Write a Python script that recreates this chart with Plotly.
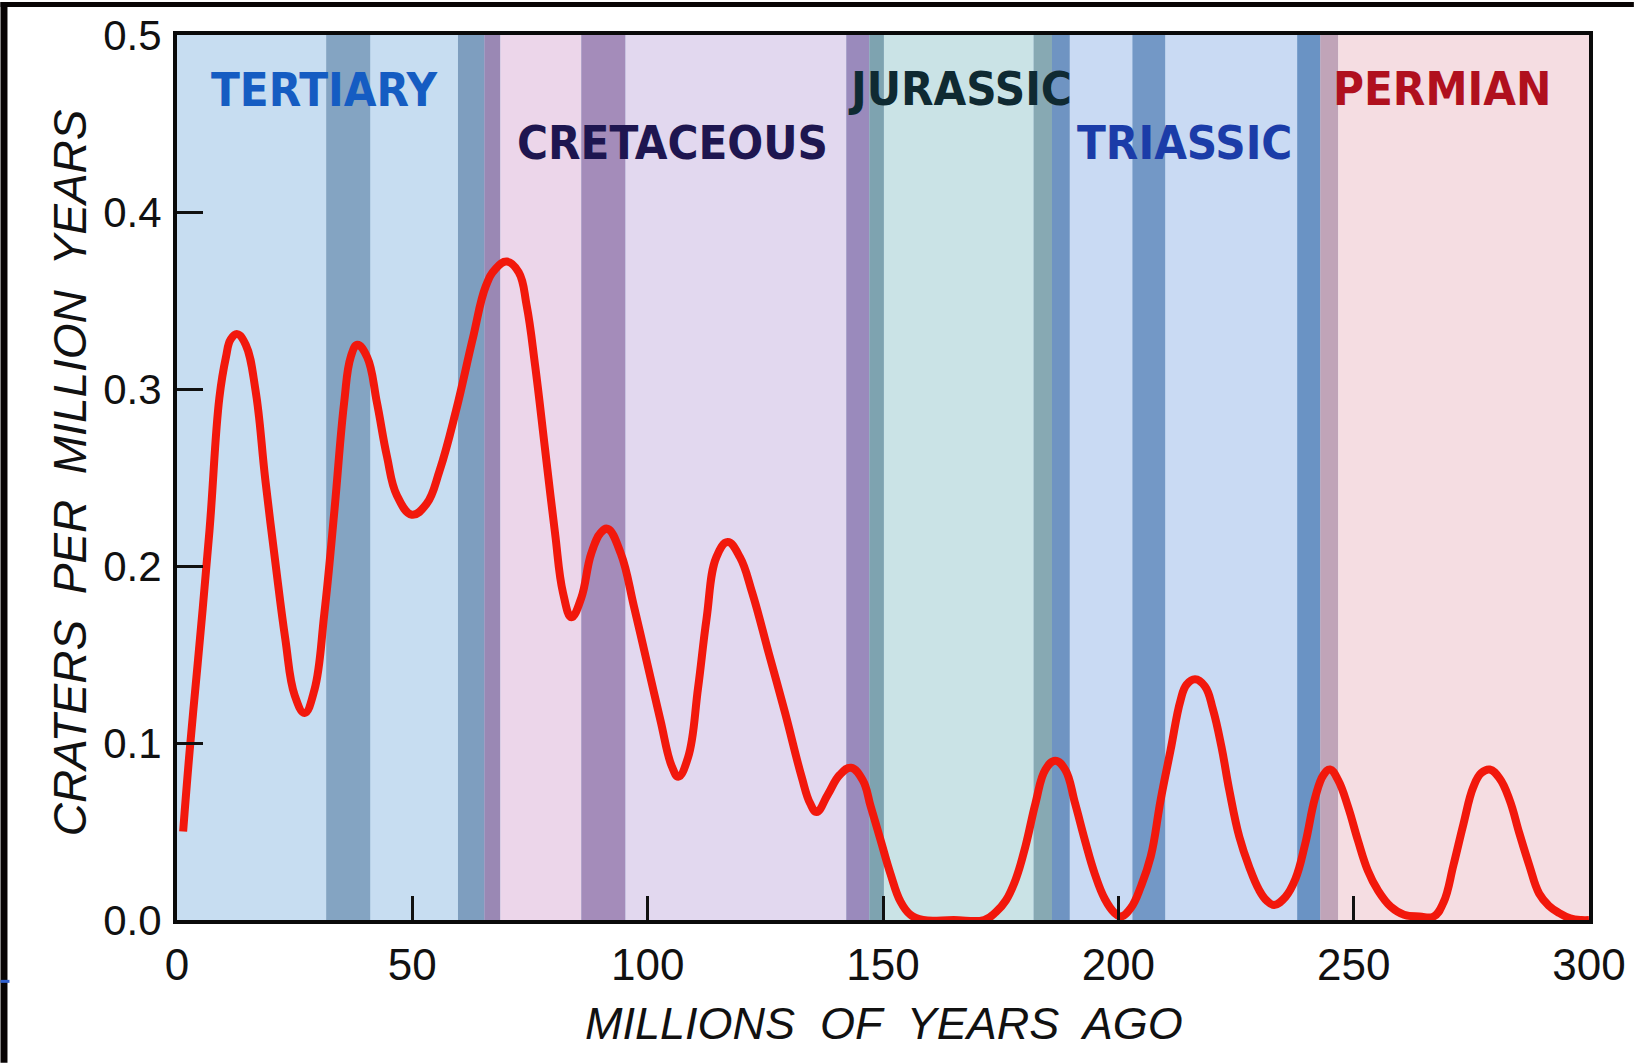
import plotly.graph_objects as go

# Crater rate curve (age in Myr ago, craters per Myr)
AGE = [1.3, 2.7, 4.4, 6.9, 9.0, 10.4, 11.4, 12.8, 14.6, 16.7,
       18.75, 20.9, 23.0, 25.0, 27.1, 29.2, 31.3, 33.4, 35.5, 36.9,
       38.3, 40.4, 42.5, 44.6, 46.7, 49.9, 53.0, 55.8, 59.3, 62.8,
       65.6, 67.7, 70.1, 72.6, 74.3, 76.1, 78.2, 80.3, 82.0, 83.8,
       85.9, 88.0, 90.1, 91.5, 94.3, 97.1, 99.9, 102.7, 105.1, 106.5,
       108.6, 110.7, 112.5, 114.6, 117.0, 119.6, 122.2, 125.7, 129.2, 132.7,
       134.5, 135.9, 138.3, 140.8, 143.2, 145.7, 147.4, 149.5, 151.6, 153.7,
       155.8, 158.5, 165.0, 171.5, 174.0, 176.1, 178.2, 180.3, 182.4, 184.5,
       186.6, 188.7, 190.8, 192.9, 195.0, 197.1, 199.2, 200.6, 202.7, 204.8,
       206.9, 209.0, 211.1, 213.2, 214.5, 216.3, 218.4, 220.1, 221.9, 223.6,
       225.7, 227.8, 229.9, 231.5, 233.1, 235.5, 237.6, 239.7, 241.8, 243.6,
       245.0, 246.7, 248.8, 250.9, 253.0, 255.1, 257.9, 260.7, 264.0, 267.0,
       269.1, 271.2, 273.3, 275.4, 277.1, 278.9, 281.0, 283.1, 285.2, 287.3,
       289.4, 291.5, 293.6, 296.0, 298.4, 300.0]
RATE = [0.050, 0.096, 0.145, 0.220, 0.295, 0.318, 0.328, 0.331, 0.325, 0.299,
        0.249, 0.202, 0.159, 0.127, 0.117, 0.130, 0.173, 0.230, 0.292, 0.318,
        0.325, 0.318, 0.292, 0.262, 0.240, 0.229, 0.235, 0.254, 0.288, 0.328,
        0.358, 0.368, 0.372, 0.366, 0.347, 0.313, 0.266, 0.219, 0.185, 0.171,
        0.182, 0.207, 0.219, 0.221, 0.207, 0.177, 0.145, 0.113, 0.087, 0.081,
        0.092, 0.131, 0.170, 0.205, 0.2135, 0.205, 0.185, 0.151, 0.117, 0.081,
        0.066, 0.061, 0.071, 0.082, 0.086, 0.079, 0.064, 0.045, 0.026, 0.0105,
        0.003, 0.0, 0.0, 0.0, 0.0045, 0.011, 0.023, 0.042, 0.066, 0.085,
        0.090, 0.085, 0.066, 0.045, 0.026, 0.012, 0.004, 0.002, 0.007, 0.019,
        0.036, 0.068, 0.096, 0.124, 0.133, 0.136, 0.132, 0.119, 0.098, 0.073,
        0.047, 0.030, 0.017, 0.011, 0.0085, 0.013, 0.023, 0.043, 0.069, 0.082,
        0.085, 0.079, 0.064, 0.045, 0.028, 0.017, 0.0075, 0.003, 0.002, 0.002,
        0.010, 0.031, 0.054, 0.075, 0.083, 0.085, 0.080, 0.068, 0.049, 0.031,
        0.015, 0.008, 0.004, 0.001, 0.0, 0.0]

# Background stripes (age ranges)
BAND_START = [0, 31.7, 41.1, 59.7, 65.3, 68.7, 85.9, 95.3, 142.2, 147.1,
              150.2, 182.0, 185.9, 189.7, 203.0, 210.0, 238.0, 242.9, 246.7]
BAND_END = [31.7, 41.1, 59.7, 65.3, 68.7, 85.9, 95.3, 142.2, 147.1, 150.2,
            182.0, 185.9, 189.7, 203.0, 210.0, 238.0, 242.9, 246.7, 300]
BAND_COLORS = ["#c7ddf1", "#84a4c2", "#c7ddf1", "#7e9ebf", "#9a88b4",
               "#ecd6ea", "#a48cba", "#e2d8ef", "#9a8abc", "#7ea3b0",
               "#cae3e6", "#87a9b3", "#6f94c2", "#c9daf3", "#7398c6",
               "#c9daf3", "#6a93c4", "#c0a4b8", "#f5dde2"]

# Period names and where they are written
PERIODS = ["TERTIARY", "CRETACEOUS", "JURASSIC", "TRIASSIC", "PERMIAN"]
PERIOD_X = [31.3, 105.2, 166.4, 214.1, 268.8]
PERIOD_Y = [0.469, 0.439, 0.470, 0.439, 0.470]
PERIOD_COLORS = ["#155cc2", "#1e1650", "#0f2a32", "#1b3ca8", "#b0101e"]

X_TICKS = [0, 50, 100, 150, 200, 250, 300]
Y_TICKS = [0.0, 0.1, 0.2, 0.3, 0.4, 0.5]

W, H = 1638, 1063
M = dict(l=177, r=45, t=33, b=143)
PW, PH = W - M["l"] - M["r"], H - M["t"] - M["b"]

TICK_FONT = "Liberation Sans, Arial, Helvetica, sans-serif"
LABEL_FONT = "Liberation Sans Narrow, Arial Narrow, DejaVu Sans Condensed, sans-serif"


def px_x(p):
    return (p - M["l"]) / PW


def px_y(p):
    return (H - M["b"] - p) / PH


fig = go.Figure()

for x0, x1, c in zip(BAND_START, BAND_END, BAND_COLORS):
    fig.add_shape(type="rect", xref="x", yref="paper", x0=x0, x1=x1, y0=0, y1=1,
                  fillcolor=c, line_width=0, layer="below")

fig.add_trace(go.Scatter(
    x=AGE, y=RATE, mode="lines",
    line=dict(color="#f2180c", width=8, shape="spline", smoothing=1.2),
    hoverinfo="x+y", showlegend=False,
))

for name, x, y, c in zip(PERIODS, PERIOD_X, PERIOD_Y, PERIOD_COLORS):
    fig.add_annotation(x=x, y=y, text=f"<b>{name}</b>", showarrow=False,
                       font=dict(family=LABEL_FONT, size=47, color=c),
                       xanchor="center", yanchor="middle")

# axis titles
fig.add_annotation(xref="paper", yref="paper", x=px_x(70), y=px_y(472),
                   xanchor="center", yanchor="middle",
                   text="<i>CRATERS\u00a0 PER\u00a0 MILLION\u00a0 YEARS</i>",
                   textangle=-90, showarrow=False,
                   font=dict(family=TICK_FONT, size=46, color="#111111"))
fig.add_annotation(xref="paper", yref="paper", x=px_x(886), y=px_y(1024),
                   xanchor="center", yanchor="middle",
                   text="<i>MILLIONS\u00a0 OF\u00a0 YEARS\u00a0 AGO</i>",
                   showarrow=False,
                   font=dict(family=TICK_FONT, size=45, color="#111111"))

# scan edges of the source picture
fig.add_shape(type="rect", xref="paper", yref="paper",
              x0=px_x(0), x1=px_x(W), y0=px_y(5), y1=px_y(0),
              fillcolor="#080404", line_width=0)
fig.add_shape(type="rect", xref="paper", yref="paper",
              x0=px_x(0), x1=px_x(7), y0=px_y(H), y1=px_y(0),
              fillcolor="#080404", line_width=0)
fig.add_shape(type="rect", xref="paper", yref="paper",
              x0=px_x(0), x1=px_x(9), y0=px_y(983), y1=px_y(980),
              fillcolor="#3060d0", line_width=0)

fig.update_xaxes(
    range=[0, 300], tickvals=X_TICKS, ticks="inside", ticklen=24, tickwidth=3,
    tickcolor="#111111", showline=True, linewidth=4, linecolor="#0a0a0a",
    mirror=True, showgrid=False, zeroline=False, ticklabelstandoff=3,
    tickfont=dict(family=TICK_FONT, size=44, color="#111111"),
)
fig.update_yaxes(
    range=[0, 0.5], tickvals=Y_TICKS, tickformat=".1f", ticks="inside",
    ticklen=26, tickwidth=3, tickcolor="#111111", showline=True, linewidth=4,
    linecolor="#0a0a0a", mirror=True, showgrid=False, zeroline=False,
    ticklabelstandoff=3,
    tickfont=dict(family=TICK_FONT, size=42, color="#111111"),
)

fig.update_layout(
    width=W, height=H, margin=M,
    paper_bgcolor="#ffffff", plot_bgcolor="#c7ddf1",
    showlegend=False,
)

fig.write_html("out.html", config={"displayModeBar": False},
               post_script="document.body.style.margin='0';")
